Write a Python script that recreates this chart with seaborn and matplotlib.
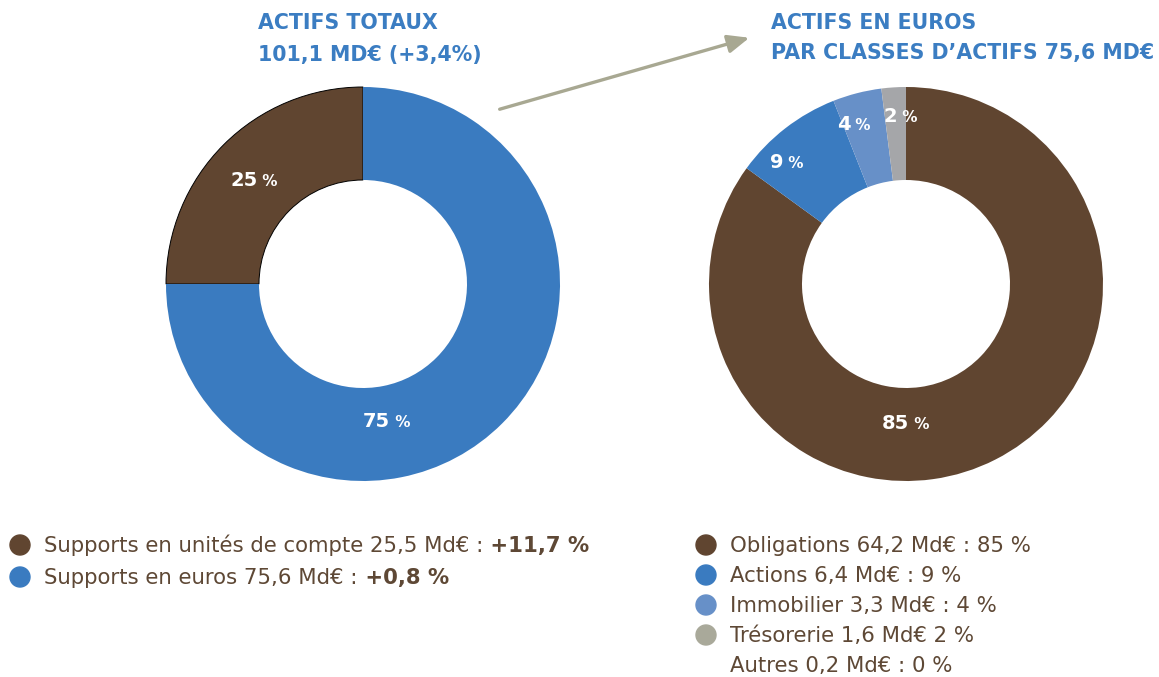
import numpy as np
import pandas as pd
import matplotlib.pyplot as plt
import seaborn as sns
from matplotlib.patches import FancyArrowPatch, Circle

# Data
left_names = ["Supports en unités de compte", "Supports en euros"]
left_amounts = [25.5, 75.6]
left_pcts = [25, 75]
left_changes = ["+11,7 %", "+0,8 %"]

right_names = ["Obligations", "Actions", "Immobilier", "Trésorerie", "Autres"]
right_amounts = [64.2, 6.4, 3.3, 1.6, 0.2]
right_pcts = [85, 9, 4, 2, 0]

# Colours
brown = "#604530"
blue = "#3a7bc0"
light_blue = "#6790c8"
grey = "#a5a6a9"
legend_grey = "#a9a99a"
text_brown = "#5e4835"
title_blue = "#3b7dc2"

sns.set_theme(style="white")
plt.rcParams['font.family'] = ['DejaVu Sans']

W, H = 1159, 677
fig = plt.figure(figsize=(W / 100, H / 100), dpi=100)
fig.patch.set_facecolor("white")
renderer = fig.canvas.get_renderer()


def rich_text(x, y, parts, ha="left"):
    # draw several text pieces on one baseline, x/y in image pixels (top-left origin)
    texts = []
    for s, kw in parts:
        t = fig.text(0, 0, s, transform=None, va="baseline", ha="left", **kw)
        texts.append(t)
    widths = [t.get_window_extent(renderer).width for t in texts]
    x0 = x - sum(widths) / 2 if ha == "center" else x
    for t, w in zip(texts, widths):
        t.set_position((x0, H - y))
        x0 += w


def donut_axes(cx, cy, r):
    ax = fig.add_axes([(cx - r) / W, (H - cy - r) / H, 2 * r / W, 2 * r / H])
    ax.set_axis_off()
    return ax


def pie_label(ax, pct, angle, radius):
    a = np.deg2rad(angle)
    dx, dy = ax.transData.transform((radius * np.cos(a), radius * np.sin(a)))
    rich_text(dx, H - dy + 7, [(str(pct), dict(fontsize=14, fontweight="bold", color="white")),
                               (" %", dict(fontsize=11, fontweight="bold", color="white"))],
              ha="center")


# Left donut: total assets
ax1 = donut_axes(363, 284, 197)
wedges, _ = ax1.pie(left_pcts, colors=[brown, blue], startangle=90, counterclock=True,
                    radius=1, wedgeprops=dict(width=1 - 104 / 197, linewidth=0))
wedges[0].set_edgecolor("black")
wedges[0].set_linewidth(0.7)
ax1.set_xlim(-1, 1)
ax1.set_ylim(-1, 1)
for pct, ang, rad in zip(left_pcts, [136, -80], [0.77, 0.70]):
    pie_label(ax1, pct, ang, rad)

# Right donut: euro assets by class
shown = [p for p in right_pcts if p > 0]
ax2 = donut_axes(906, 284, 197)
ax2.pie(shown, colors=[brown, blue, light_blue, grey], startangle=90, counterclock=False,
        radius=1, wedgeprops=dict(width=1 - 104 / 197, linewidth=0))
ax2.set_xlim(-1, 1)
ax2.set_ylim(-1, 1)
for pct, ang, rad in zip(shown, [-90, 134, 108, 92], [0.70, 0.87, 0.86, 0.86]):
    pie_label(ax2, pct, ang, rad)

# Titles
title_kw = dict(fontsize=14.8, fontweight="bold", color=title_blue)
rich_text(258, 29, [("ACTIFS TOTAUX", title_kw)])
rich_text(258, 61, [("101,1 MD€ (+3,4%)", title_kw)])
rich_text(771, 29, [("ACTIFS EN EUROS", title_kw)])
rich_text(771, 59, [("PAR CLASSES D’ACTIFS 75,6 MD€", title_kw)])

# Arrow between the two charts
fig.add_artist(FancyArrowPatch(
    (497, H - 110), (752, H - 37), transform=None,
    arrowstyle="-|>,head_length=13,head_width=5.5",
    color="#a8a892", linewidth=2.4, mutation_scale=1))

# Legends
leg_kw = dict(fontsize=15.3, color=text_brown)
bold_kw = dict(fontsize=15.3, color=text_brown, fontweight="bold")
for i, (name, amt, chg, col) in enumerate(zip(left_names, left_amounts, left_changes, [brown, blue])):
    y = 552 + i * 32
    fig.add_artist(Circle((20, H - (y - 7)), 10, transform=None, color=col))
    rich_text(44, y, [(f"{name} {amt:.1f} Md€ :".replace(".", ","), leg_kw), (" " + chg, bold_kw)])

right_cols = [brown, blue, light_blue, legend_grey, None]
for i, (name, amt, pct, col) in enumerate(zip(right_names, right_amounts, right_pcts, right_cols)):
    y = 552 + i * 30
    if col is not None:
        fig.add_artist(Circle((706, H - (y - 7)), 10, transform=None, color=col))
    sep = " " if name == "Trésorerie" else " : "
    rich_text(730, y, [(f"{name} {amt:.1f} Md€".replace(".", ",") + sep + f"{pct} %", leg_kw)])

fig.savefig("out.png", dpi=100)
